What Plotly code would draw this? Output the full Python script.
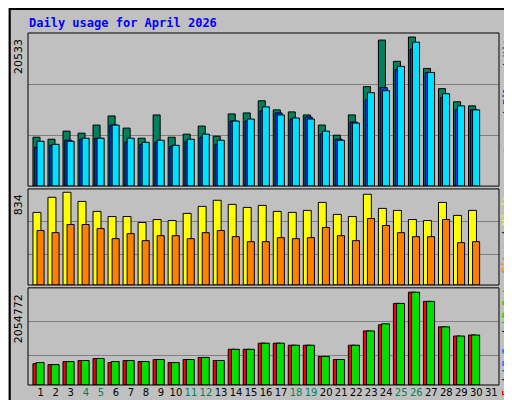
import plotly.graph_objects as go

days = list(range(1, 32))
data_days = list(range(1, 31))
hits = [6735,6457,7572,7293,8408,9662,7990,6596,9801,6735,7153,8268,6875,9940,10080,11752,10498,10219,9801,8408,7014,9801,13703,20113,17187,20533,16211,13424,11613,11055]
files = [5342,5620,6317,6457,6596,8408,6039,5760,6039,5481,6178,6735,5760,8965,8965,10358,10080,9244,9522,7153,6457,8826,11891,13563,16072,18859,15654,12170,10498,10498]
pages = [6178,5760,6178,6596,6596,8408,6596,6039,6317,5620,6457,7153,6317,8965,9244,10916,9801,9383,9244,7572,6317,8686,12867,13145,16490,19834,15654,12727,11055,10498]
visits = [653,789,834,752,662,616,616,562,589,580,644,707,762,725,698,716,662,653,671,743,635,616,816,689,671,589,580,743,626,671]
sites = [490,471,544,544,508,417,462,399,444,444,417,471,490,435,390,390,426,417,426,517,444,399,598,535,471,435,435,589,381,390]
kb_f = [474000,451600,519300,541900,587000,496800,541900,519300,564500,496800,564500,609700,541900,790300,790300,925700,925700,880600,880600,632200,564500,880600,1196700,1332200,1806400,2054772,1851500,1287000,1083800,1106400]
kb_out = [496800,451600,519300,541900,587000,519300,541900,519300,564500,496800,564500,609700,541900,790300,790300,925700,925700,880600,880600,632200,564500,880600,1196700,1354800,1806400,2054772,1851500,1287000,1083800,1106400]
weekends = [4,5,11,12,18,19,25,26]
max_hits, max_visits, max_kb = 20533, 834, 2054772

fig = go.Figure()
def bars(y, color, off, w, ax):
    fig.add_trace(go.Bar(x=data_days, y=y, offset=off, width=w, marker=dict(color=color, line=dict(color="black", width=1)),
                         xaxis="x", yaxis=ax, showlegend=False, hoverinfo="skip"))
bars(hits, "#00805C", -0.52, 0.47, "y3")
bars(files, "#0040FF", -0.40, 0.47, "y3")
bars(pages, "#00E0FF", -0.25, 0.47, "y3")
bars(visits, "#FFFF00", -0.52, 0.53, "y2")
bars(sites, "#FF8000", -0.25, 0.47, "y2")
bars(kb_f, "#FF0000", -0.52, 0.47, "y")
bars(kb_out, "#00E000", -0.31, 0.53, "y")

ticktext = [f"<span style='color:#00805C'>{d}</span>" if d in weekends else str(d) for d in days]
yax = dict(showticklabels=False, ticks="", gridcolor="#808080", gridwidth=1, zeroline=False, showline=False, automargin=False)
fig.update_layout(
    width=512, height=400, paper_bgcolor="#C0C0C0", plot_bgcolor="#C0C0C0",
    margin=dict(l=20, r=21, t=25, b=23, autoexpand=False), barmode="overlay",
    font=dict(family="DejaVu Sans", size=11, color="black"),
    xaxis=dict(range=[0.15, 31.51], tickvals=days, ticktext=ticktext, ticks="", showgrid=False, zeroline=False,
               tickangle=0, automargin=False, tickfont=dict(size=10)),
    yaxis=dict(domain=[0, 0.276], range=[0, 2151000], tickvals=[654800, 1400000], **yax),
    yaxis2=dict(domain=[0.284, 0.557], range=[0, 864], tickvals=[272, 571], **yax),
    yaxis3=dict(domain=[0.565, 1], range=[0, 21088], tickvals=[6937, 14013], **yax),
)
mono = "DejaVu Sans Mono"
fig.add_annotation(text="<b>Daily usage for April 2026</b>", x=-1/491, y=1 + 19/352, xref="paper", yref="paper",
                   xanchor="left", yanchor="top", showarrow=False, font=dict(family=mono, size=12, color="#0000FF"))
for val, ax, lab in [(max_hits, "y3", "20533"), (max_visits, "y2", "834"), (max_kb, "y", "2054772")]:
    fig.add_annotation(text=lab, x=0, xref="paper", xanchor="right", y=val, yref=ax, yanchor="top",
                       textangle=-90, showarrow=False, xshift=-1, font=dict(size=11))
side = [
    ("y3 domain", "<b><span style='color:#00E0FF'>Pages</span> / <span style='color:#0040FF'>Files</span> / <span style='color:#00805C'>Hits</span></b>"),
    ("y2 domain", "<b><span style='color:#FF8000'>Sites</span> / <span style='color:#FFFF00'>Visits</span></b>"),
    ("y domain", "<b><span style='color:#FF0000'>kB F</span> / <span style='color:#0080FF'>kB In</span> / <span style='color:#00E000'>kB Out</span></b>"),
]
for ref, t in side:
    fig.add_annotation(text=t, x=1, xref="paper", xanchor="left", xshift=1, y=1, yref=ref, yanchor="top",
                       textangle=-90, showarrow=False, borderpad=0, font=dict(family=mono, size=10))
for ref in ["y3", "y2", "y"]:
    fig.add_shape(type="rect", xref="x domain", yref=ref + " domain", x0=0, x1=1, y0=0, y1=1,
                  line=dict(color="black", width=1))
fig.add_shape(type="rect", xref="paper", yref="paper", x0=-19/491, x1=1+20/491, y0=-22/352, y1=1+24/352,
              line=dict(color="black", width=2))
fig.write_html("out.html")
